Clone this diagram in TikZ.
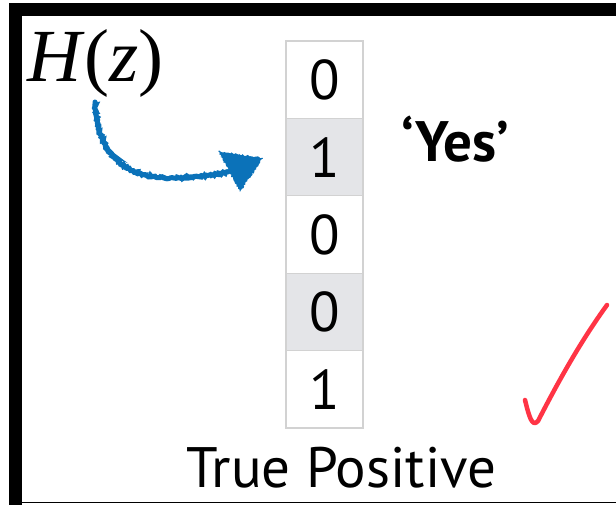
\documentclass[tikz,border=0pt]{standalone}
\usepackage{fontspec}
\setmainfont{PT Sans}
\newfontfamily\timesf{Liberation Serif}
\usetikzlibrary{decorations.pathmorphing}
\definecolor{cellgray}{HTML}{E4E5E8}
\definecolor{celledge}{HTML}{D2D2D2}
\definecolor{penblue}{HTML}{0B72B9}
\definecolor{penred}{HTML}{FF3445}
\begin{document}
\begin{tikzpicture}[x=1pt,y=-1pt,
  cell/.style={draw=celledge, line width=1.3pt, minimum width=77pt, minimum height=77.4pt, inner sep=0pt, font=\fontsize{56}{56}\selectfont},
  graycell/.style={cell, fill=cellgray},
  rough/.style={decorate, decoration={random steps, segment length=1.2pt, amplitude=0.9pt}},
  label/.style={inner sep=0pt, anchor=base west}]
\useasboundingbox (0,0) rectangle (616,505);
\fill[white] (0,0) rectangle (616,505);
% frame
\fill[black] (9,3) rectangle (616,16);
\fill[black] (9,3) rectangle (22,505);
\draw[line width=1.6pt] (22,502.5) -- (616,502.5);
% cells
\node[cell]     (c1) at (324.5,79.7)  {0};
\node[graycell] (c2) at (324.5,157.1) {1};
\node[cell]     (c3) at (324.5,234.5) {0};
\node[graycell] (c4) at (324.5,311.9) {0};
\node[cell]     (c5) at (324.5,389.3) {1};
% labels
\node[label, font=\fontsize{75}{75}\selectfont\timesf] (hz) at (27,82) {\textit{H}(\textit{z})};
\node[label, font=\fontsize{57}{57}\selectfont\bfseries] (yes) at (401,162) {‘Yes’};
\node[label, font=\fontsize{57}{57}\selectfont] (tp) at (186,487) {True Positive};
% blue hand-drawn arrow
\coordinate (as) at (95,102);
\coordinate (ae) at (228,172);
\draw[penblue, line width=5pt, line cap=round, rough]
  (as) .. controls (97,150) and (120,178) .. (170,178)
  .. controls (195,178) and (212,175) .. (ae);
\fill[penblue, rough] (218,151) -- (263,158) -- (240,192) -- cycle;
% red check mark
\draw[penred, line width=4.5pt, line cap=round, line join=round]
  (525,400) .. controls (529,416) and (532,428) .. (538,421)
  .. controls (555,388) and (578,345) .. (607,305);
\end{tikzpicture}
\end{document}
